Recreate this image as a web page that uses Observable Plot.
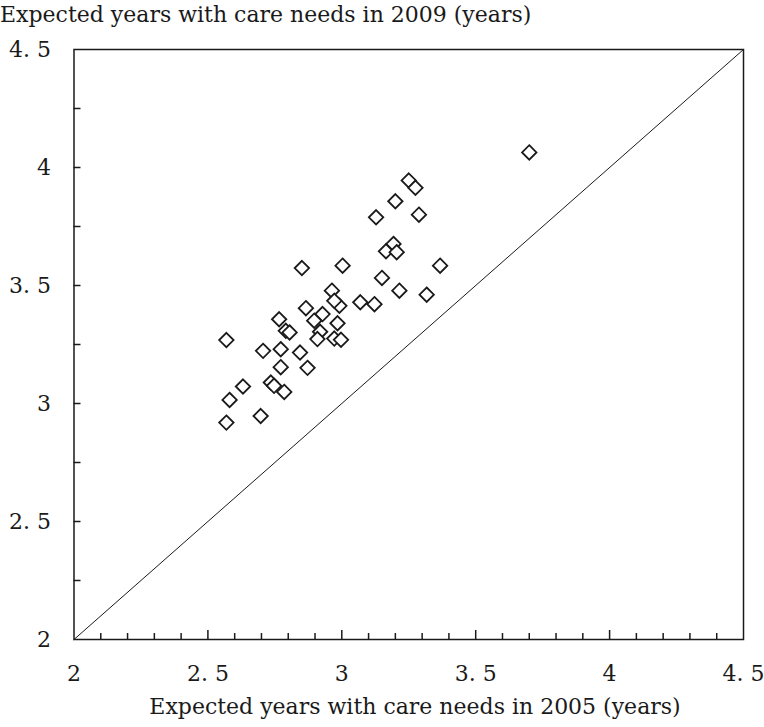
<!DOCTYPE html>
<html><head><meta charset="utf-8">
<script src="https://cdn.jsdelivr.net/npm/d3@7"></script>
<script src="https://cdn.jsdelivr.net/npm/@observablehq/plot@0.6"></script>
<style>
html,body{margin:0;padding:0;background:#fff;}
#title{box-sizing:border-box;width:764px;height:35px;font-family:"DejaVu Serif";font-size:22px;line-height:30px;padding-left:0px;color:#1a1a1a;white-space:nowrap;}
#xlabel{box-sizing:border-box;width:764px;height:35px;font-family:"DejaVu Serif";font-size:22px;line-height:30px;text-align:center;padding-left:66px;color:#1a1a1a;white-space:nowrap;}
#chart svg{display:block;}
</style>
</head><body>
<div id="title">Expected years with care needs in 2009 (years)</div>
<div id="chart"></div>
<div id="xlabel">Expected years with care needs in 2005 (years)</div>
<script>
// Expected years with care needs, by prefecture
const x2005 = [3.700, 3.250, 3.275, 3.200, 3.128, 3.288, 3.193, 3.165, 3.205, 3.367, 3.150,
  3.215, 3.317, 3.122, 3.069, 2.851, 3.003, 2.963, 2.866, 2.991, 2.972, 2.928, 2.766, 2.897,
  2.984, 2.791, 2.805, 2.919, 2.972, 2.997, 2.909, 2.772, 2.844, 2.772, 2.872, 2.569, 2.706,
  2.631, 2.735, 2.747, 2.785, 2.581, 2.697, 2.569];
const y2009 = [4.064, 3.945, 3.914, 3.857, 3.789, 3.800, 3.676, 3.645, 3.641, 3.584, 3.532,
  3.478, 3.461, 3.421, 3.429, 3.574, 3.584, 3.478, 3.404, 3.414, 3.435, 3.379, 3.357, 3.351,
  3.340, 3.308, 3.301, 3.304, 3.275, 3.270, 3.273, 3.230, 3.216, 3.154, 3.151, 3.269, 3.223,
  3.072, 3.089, 3.075, 3.049, 3.015, 2.947, 2.919];
const diagonal = [2, 4.5];
const tickValues = [2, 2.5, 3, 3.5, 4, 4.5];
const tickLabels = ["2", "2. 5", "3", "3. 5", "4", "4. 5"];
const xMinorTicks = [2.1, 2.2, 2.3, 2.4, 2.6, 2.7, 2.8, 2.9, 3.1, 3.2, 3.3, 3.4,
  3.6, 3.7, 3.8, 3.9, 4.1, 4.2, 4.3, 4.4];
const xMajorTicks = [2.5, 3, 3.5, 4];
const yTicks = [2.25, 2.5, 2.75, 3, 3.25, 3.5, 3.75, 4, 4.25];

const points = x2005.map((x, i) => ({x, y: y2009[i]}));

const W = 764, H = 657;
const mL = 73.5, mR = 21, mT = 14, mB = 53;
const plotW = W - mL - mR, plotH = H - mT - mB;
const fmt = d => tickLabels[tickValues.indexOf(d)];
const ink = "#1a1a1a";

const chart = Plot.plot({
  width: W, height: H,
  marginLeft: mL, marginRight: mR, marginTop: mT, marginBottom: mB,
  style: {fontFamily: "DejaVu Serif", color: ink, background: "#fff"},
  x: {domain: [2, 4.5]},
  y: {domain: [2, 4.5]},
  marks: [
    Plot.line(diagonal, {x: d => d, y: d => d, stroke: ink, strokeWidth: 1}),
    Plot.ruleX(xMinorTicks, {x: d => d, insetTop: plotH - 6, stroke: ink, strokeWidth: 1.5}),
    Plot.ruleX(xMajorTicks, {x: d => d, insetTop: plotH - 9, stroke: ink, strokeWidth: 1.5}),
    Plot.ruleY(yTicks, {y: d => d, insetRight: plotW - 7, stroke: ink, strokeWidth: 1.5}),
    Plot.axisX(tickValues, {tickSize: 0, tickPadding: 26, tickFormat: fmt, fontSize: 22, label: null, fill: ink}),
    Plot.axisY(tickValues, {tickSize: 0, tickPadding: 23, tickFormat: fmt, fontSize: 22, label: null, fill: ink}),
    Plot.dot(points, {x: "x", y: "y", symbol: "diamond2", r: 6.5, fill: "white", stroke: ink, strokeWidth: 1.8}),
    Plot.frame({stroke: ink, strokeWidth: 1.5})
  ]
});
document.getElementById("chart").appendChild(chart);
</script>
</body></html>
